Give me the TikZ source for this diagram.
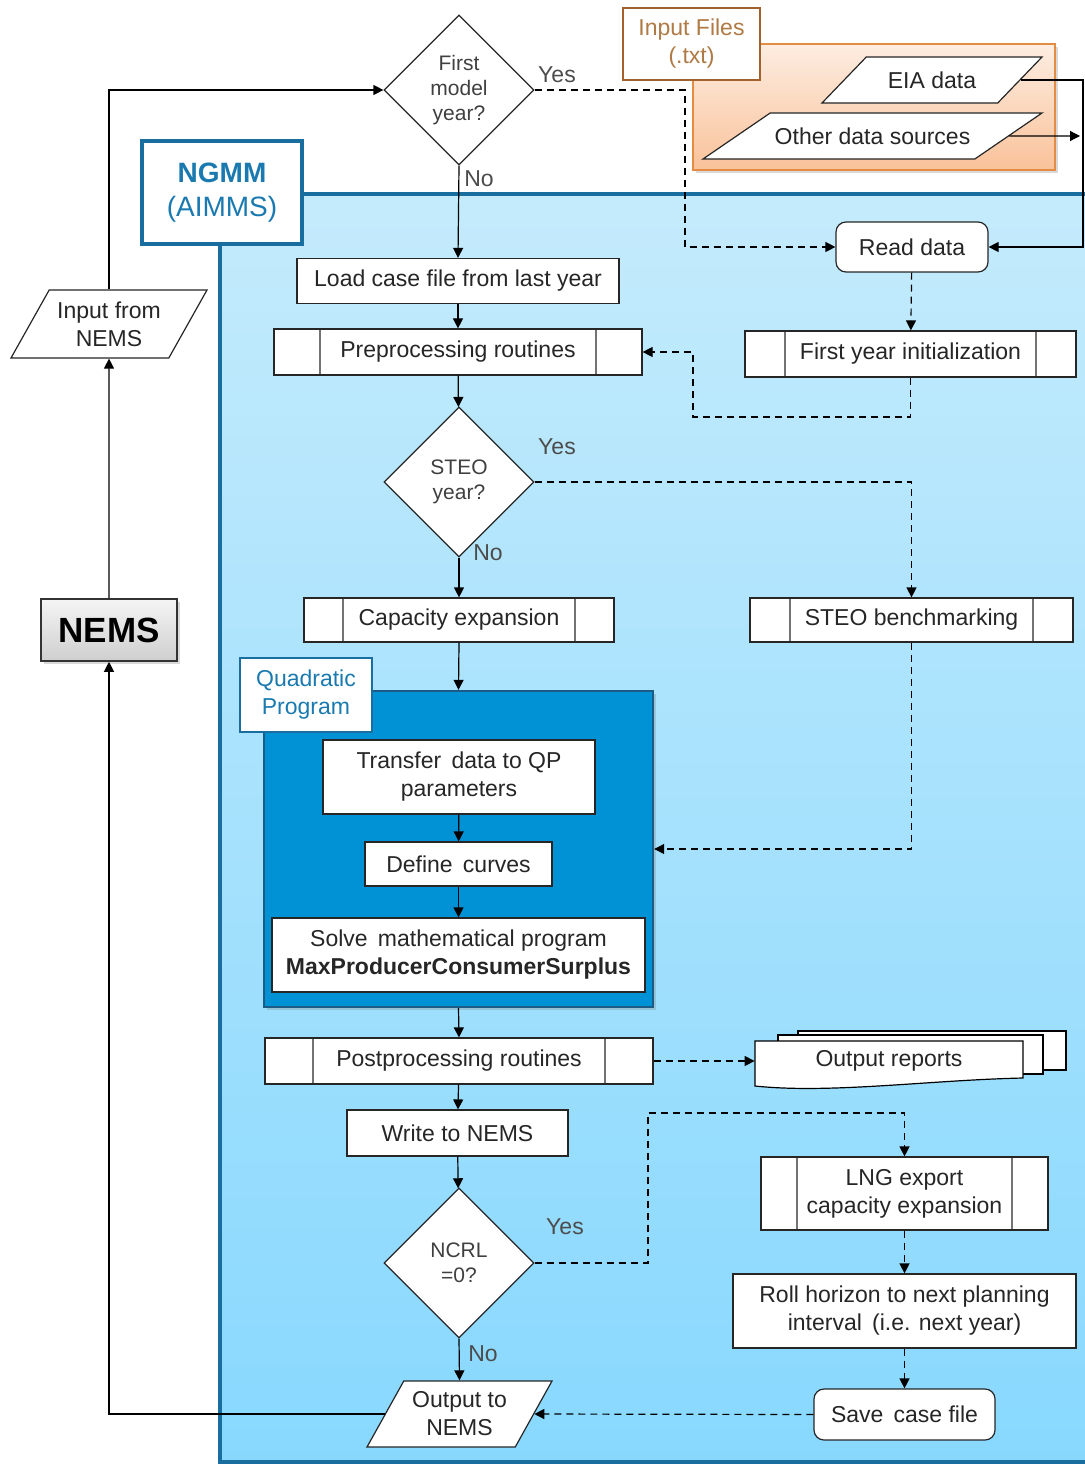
\documentclass[tikz,border=0pt]{standalone}
\usepackage{fontspec}
\setmainfont{Liberation Sans}
\usetikzlibrary{shapes.geometric,arrows.meta,shadows}

\begin{document}
\begin{tikzpicture}[x=0.5pt,y=-0.5pt,
  font=\fontsize{11.5}{14}\selectfont,
  box/.style={draw=black!85,fill=white,line width=0.6pt,inner sep=0pt,align=center,text=txt},
  subproc/.style={box,path picture={
    \draw[black!55,line width=1pt] ([xshift=#1]path picture bounding box.north west) -- ([xshift=#1]path picture bounding box.south west);
    \draw[black!55,line width=1pt] ([xshift=-#1]path picture bounding box.north east) -- ([xshift=-#1]path picture bounding box.south east);}},
  term/.style={box,rounded corners=5pt},
  decide/.style={diamond,draw=black!85,fill=white,line width=0.6pt,inner sep=0pt,
    minimum width=75pt,minimum height=75pt,align=center,text=black!75,
    font=\fontsize{10.5}{12.5}\selectfont},
  io/.style 2 args={trapezium,trapezium stretches body,trapezium left angle=#1,
    trapezium right angle=#2,draw=black!85,fill=white,line width=0.6pt,inner sep=0pt,
    align=center,text=txt},
  tag/.style={draw=ngblue,line width=1.2pt,fill=white,align=center,text=ngtext},
  arr/.style={-{Triangle[length=5pt,width=5pt]},line width=0.6pt},
  dasharr/.style={arr,dash pattern=on 3.5pt off 2.5pt},
  lbl/.style={text=black!70},
  shade1/.style={drop shadow={opacity=0.3,shadow xshift=1.5pt,shadow yshift=-1.5pt}}]
\definecolor{txt}{HTML}{262626}
\definecolor{ngblue}{HTML}{1A6E9F}
\definecolor{ngtext}{HTML}{1A7AB0}
\definecolor{qpfill}{HTML}{0092D5}
\definecolor{qpdraw}{HTML}{1A5C85}
\definecolor{blueTop}{HTML}{C4EBFC}
\definecolor{blueBot}{HTML}{88D8FE}
\definecolor{orTop}{HTML}{FDEDE1}
\definecolor{orBot}{HTML}{F9C29A}
\definecolor{orDraw}{HTML}{E48C44}
\definecolor{brown}{HTML}{A3612E}
\definecolor{brownTxt}{HTML}{B07A45}
\useasboundingbox (0,0) rectangle (1085,1465);

% NGMM area
\shade[top color=blueTop,bottom color=blueBot] (220,194) rectangle (1085,1462);
\draw[ngblue,line width=2.2pt] (1085,194) -- (220,194) -- (220,1462) -- (1085,1462);
\node[tag,line width=2pt,minimum width=80pt,minimum height=51.5pt,font=\fontsize{14}{17}\selectfont] (ngmm) at (222,192.5) {\textbf{NGMM}\\(AIMMS)};

% input files
\node[draw=orDraw,line width=1.2pt,top color=orTop,bottom color=orBot,minimum width=181pt,minimum height=63pt,shade1] (files) at (874,107) {};
\node[draw=brown,line width=1.2pt,fill=white,minimum width=68.5pt,minimum height=36pt,align=center,text=brownTxt] (ftag) at (691.5,44) {Input Files\\(.txt)};
\node[io={21}{159},text height=8.5pt,text depth=0pt,minimum width=110pt,minimum height=23pt] (eia) at (932,80) {EIA data};
\node[io={14.2}{165.8},text height=8.5pt,text depth=0pt,minimum width=169.5pt,minimum height=23pt] (oth) at (872.5,136) {Other data sources};

% NEMS side
\node[io={49.6}{130.4},minimum width=98pt,minimum height=34pt] (inp) at (109,324) {Input from\\NEMS};
\node[draw=black!80,line width=0.8pt,top color=gray!8,bottom color=gray!38,minimum width=68pt,minimum height=31pt,font=\fontsize{17.5}{20}\selectfont\bfseries,shade1] (nems) at (109,630) {NEMS};

% main flow
\node[decide] (fm) at (459,90) {First\\model\\year?};
\node[box,minimum width=161pt,minimum height=22.5pt] (lc) at (458,281) {Load case file from last year};
\node[subproc=23pt,minimum width=184pt,minimum height=23pt] (pre) at (458,352) {Preprocessing routines};
\node[term,minimum width=76pt,minimum height=25pt] (rd) at (912,247) {Read data};
\node[subproc=20pt,minimum width=165.5pt,minimum height=23pt] (fyi) at (910.5,354) {First year initialization};
\node[decide] (sy) at (459,482) {STEO\\year?};
\node[subproc=19.5pt,minimum width=155pt,minimum height=22pt] (ce) at (459,620) {Capacity expansion};
\node[subproc=20pt,minimum width=161.5pt,minimum height=22pt] (sb) at (911.5,620) {STEO benchmarking};

% quadratic program
\node[draw=qpdraw,line width=1.2pt,fill=qpfill,minimum width=194.5pt,minimum height=158pt,shade1] (qp) at (458.5,849) {};
\node[tag,minimum width=66pt,minimum height=37pt] (qptag) at (306,695) {Quadratic\\Program};
\node[box,minimum width=136pt,minimum height=37pt] (tr) at (459,777) {Transfer\, data to QP\\parameters};
\node[box,minimum width=93.5pt,minimum height=22pt] (dc) at (458.5,864) {Define\, curves};
\node[box,minimum width=186.5pt,minimum height=37pt] (sv) at (458.5,955) {Solve\, mathematical program\\\textbf{MaxProducerConsumerSurplus}};

\node[subproc=24pt,minimum width=194pt,minimum height=23pt] (post) at (459,1061) {Postprocessing routines};
\node[box,minimum width=110.5pt,minimum height=23pt] (wn) at (457.5,1133) {Write to NEMS};
\node[decide] (nc) at (459,1263) {NCRL\\=0?};
\node[io={50.3}{129.7},minimum width=92.5pt,minimum height=33pt] (on) at (459.5,1414) {Output to\\NEMS};

% right column
\draw[fill=white,line width=0.6pt] (798,1031) rectangle (1066,1070);
\draw[fill=white,line width=0.6pt] (778,1035) rectangle (1043,1074);
\draw[fill=white,line width=0.6pt] (755,1041) -- (1023,1041) -- (1023,1078) .. controls (930,1080) and (830,1094) .. (755,1086) -- cycle;
\node[minimum width=134pt,minimum height=23pt,inner sep=0pt,text=txt] (rep) at (889,1061) {\raisebox{-2pt}{Output reports}};
\node[subproc=18pt,minimum width=143.5pt,minimum height=36.5pt] (lng) at (904.5,1193.5) {LNG export\\capacity expansion};
\node[box,minimum width=171.5pt,minimum height=37pt] (rh) at (904.5,1311) {Roll horizon to next planning\\interval\, (i.e. next year)};
\node[term,minimum width=90.5pt,minimum height=25.5pt] (sc) at (904.5,1414.5) {Save\, case file};

% connectors
\draw[arr] (inp.north) |- (fm.west);
\draw[arr] (nems.north) -- (inp.south);
\draw[arr] (on.west) -| (nems.south);
\draw[dasharr] (fm.east) -| (685,247) -- (rd.west);
\draw[arr] (fm.south) -- (lc.north);
\draw[arr] (eia.east) -| (1083,247) -- (rd.east);
\coordinate (othend) at (1080,136);
\draw[arr] (oth.east) -- (othend);
\draw[dasharr] (rd) -- (fyi);
\draw[dasharr] (fyi.south) |- (693,417) |- (pre.east);
\draw[arr] (lc) -- (pre);
\draw[arr] (pre) -- (sy);
\draw[dasharr] (sy.east) -| (sb.north);
\draw[arr] (sy.south) -- (ce.north);
\draw[arr] (ce.south) -- (qp.north);
\draw[dasharr] (sb.south) |- (qp.east);
\draw[arr] (tr) -- (dc);
\draw[arr] (dc) -- (sv);
\draw[arr] (qp.south) -- (post.north);
\draw[dasharr] (post.east) -- (rep.west);
\draw[arr] (post) -- (wn);
\draw[arr] (wn) -- (nc);
\draw[dasharr] (nc.east) -| (648,1113) -| (lng.north);
\draw[dasharr] (lng) -- (rh);
\draw[dasharr] (rh) -- (sc);
\draw[dasharr] (sc.west) -- (on.east);
\draw[arr] (nc.south) -- (on.north);

% labels
\node[lbl] (y1) at (557,75) {Yes};
\node[lbl] (n1) at (479,179) {No};
\node[lbl] (y2) at (557,447) {Yes};
\node[lbl] (n2) at (488,553) {No};
\node[lbl] (y3) at (565,1227) {Yes};
\node[lbl] (n3) at (483,1354) {No};
\end{tikzpicture}
\end{document}
